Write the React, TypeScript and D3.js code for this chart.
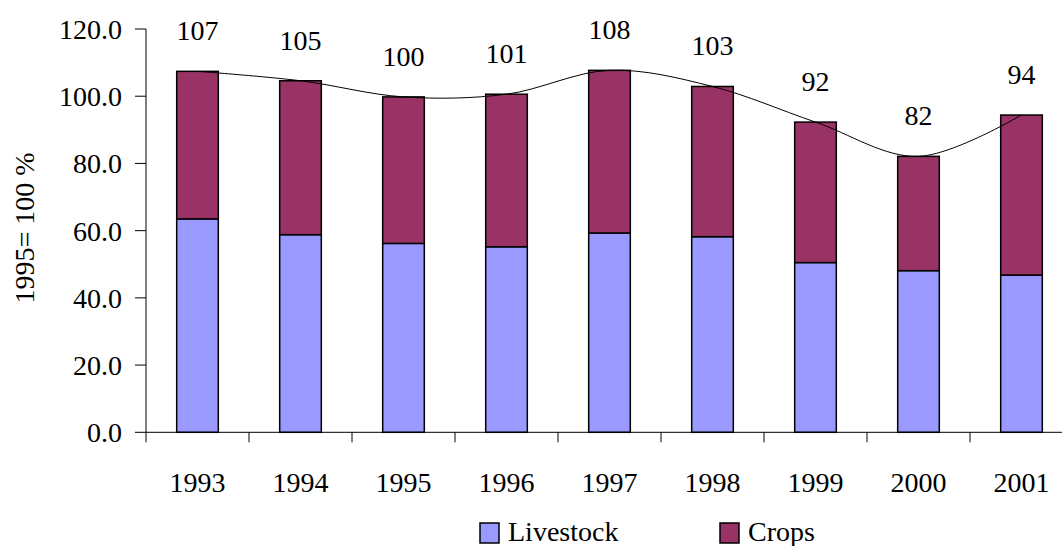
import React from "react";
import * as d3 from "d3";

const years = ["1993", "1994", "1995", "1996", "1997", "1998", "1999", "2000", "2001"];
const livestock = [63.5, 58.8, 56.2, 55.2, 59.3, 58.2, 50.5, 48.1, 46.8];
const crops = [43.9, 45.8, 43.6, 45.4, 48.4, 44.7, 41.8, 34.0, 47.6];
const yTicks = [0, 20, 40, 60, 80, 100, 120];
const seriesNames = ["Livestock", "Crops"];
const seriesColors = ["#9999FF", "#993366"];

const W = 1062;
const H = 546;
const FONT = "'Liberation Serif', 'Times New Roman', 'Noto Serif', 'DejaVu Serif', FreeSerif, serif";

export default function App() {
  const left = 146;
  const step = 103;
  const x = d3
    .scaleBand<string>()
    .domain(years)
    .range([left, left + step * years.length])
    .paddingInner(0.596)
    .paddingOuter(0.298);
  const y = d3.scaleLinear().domain([0, 120]).range([432.3, 29]);

  const totals = years.map((_, i) => livestock[i] + crops[i]);
  const cx = (yr: string) => (x(yr) as number) + x.bandwidth() / 2;

  const line = d3
    .line<number>()
    .x((_, i) => cx(years[i]))
    .y((d) => y(d))
    .curve(d3.curveCardinal.tension(0));

  const fmt1 = d3.format(".1f");
  const fmt0 = d3.format(".0f");
  const ts: React.CSSProperties = { fontFamily: FONT, fontSize: "28px" };

  return (
    <svg
      width={W}
      height={H}
      style={{ position: "absolute", left: 0, top: 0, background: "#fff", fontFamily: FONT }}
    >
      {years.map((yr, i) => (
        <g key={yr}>
          <rect
            x={x(yr)}
            y={y(livestock[i])}
            width={x.bandwidth()}
            height={y(0) - y(livestock[i])}
            fill={seriesColors[0]}
            stroke="#000"
            strokeWidth={1.5}
          />
          <rect
            x={x(yr)}
            y={y(totals[i])}
            width={x.bandwidth()}
            height={y(livestock[i]) - y(totals[i])}
            fill={seriesColors[1]}
            stroke="#000"
            strokeWidth={1.5}
          />
        </g>
      ))}

      <path d={line(totals) || ""} fill="none" stroke="#000" strokeWidth={1} />

      {years.map((yr, i) => (
        <text key={"l" + yr} x={cx(yr)} y={y(totals[i]) - 31} textAnchor="middle" style={ts} fill="#000">
          {fmt0(totals[i])}
        </text>
      ))}

      <line x1={left} x2={left} y1={y(120)} y2={y(0)} stroke="#000" strokeWidth={1} />
      {yTicks.map((t) => (
        <g key={"yt" + t}>
          <line x1={left - 11} x2={left} y1={y(t)} y2={y(t)} stroke="#000" strokeWidth={1} />
          <text x={122} y={y(t) + 10} textAnchor="end" style={ts} fill="#000">
            {fmt1(t)}
          </text>
        </g>
      ))}

      <line x1={left} x2={left + step * years.length} y1={y(0)} y2={y(0)} stroke="#000" strokeWidth={1} />
      {years.map((yr, i) => (
        <line
          key={"xt" + yr}
          x1={left + step * i}
          x2={left + step * i}
          y1={y(0)}
          y2={y(0) + 10}
          stroke="#000"
          strokeWidth={1}
        />
      ))}
      {years.map((yr) => (
        <text key={"xl" + yr} x={cx(yr)} y={492} textAnchor="middle" style={ts} fill="#000">
          {yr}
        </text>
      ))}

      <text transform={`translate(34, 228) rotate(-90)`} textAnchor="middle" style={ts} fill="#000">
        1995= 100 %
      </text>

      {seriesNames.map((name, i) => {
        const lx = [480, 720][i];
        return (
          <g key={name}>
            <rect x={lx} y={523} width={19} height={20} fill={seriesColors[i]} stroke="#000" strokeWidth={1.5} />
            <text x={lx + 28} y={541} style={ts} fill="#000">
              {name}
            </text>
          </g>
        );
      })}
    </svg>
  );
}
